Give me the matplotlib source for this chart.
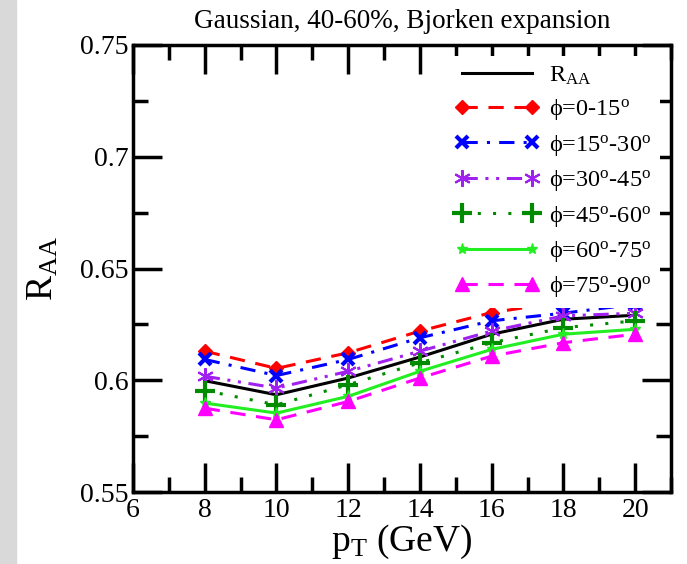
import matplotlib
matplotlib.use("Agg")
import matplotlib.pyplot as plt
from matplotlib.patches import Rectangle
from matplotlib.ticker import MultipleLocator

plt.rcParams['font.family'] = ['Liberation Serif', 'DejaVu Serif']
plt.rcParams['mathtext.fontset'] = 'custom'
plt.rcParams['mathtext.rm'] = 'Liberation Serif'
plt.rcParams['mathtext.it'] = 'Liberation Serif:italic'

pt = [8, 10, 12, 14, 16, 18, 20]
raa = [0.5998, 0.5935, 0.6010, 0.6104, 0.6206, 0.6273, 0.6291]
phi_0_15 = [0.6130, 0.6053, 0.6123, 0.6220, 0.6303, 0.6350, 0.6370]
phi_15_30 = [0.6093, 0.6021, 0.6093, 0.6190, 0.6266, 0.6300, 0.6340]
phi_30_45 = [0.6018, 0.5965, 0.6040, 0.6130, 0.6220, 0.6288, 0.6300]
phi_45_60 = [0.5954, 0.5890, 0.5980, 0.6078, 0.6168, 0.6235, 0.6266]
phi_60_75 = [0.5898, 0.5853, 0.5928, 0.6040, 0.6138, 0.6206, 0.6228]
phi_75_90 = [0.5875, 0.5823, 0.5905, 0.6010, 0.6108, 0.6168, 0.6206]

labels = ['R$_{\\rm AA}$',
          'ϕ=0-15$^{\\rm o}$',
          'ϕ=15$^{\\rm o}$-30$^{\\rm o}$',
          'ϕ=30$^{\\rm o}$-45$^{\\rm o}$',
          'ϕ=45$^{\\rm o}$-60$^{\\rm o}$',
          'ϕ=60$^{\\rm o}$-75$^{\\rm o}$',
          'ϕ=75$^{\\rm o}$-90$^{\\rm o}$']

fig = plt.figure(figsize=(6.87, 5.64), dpi=100)
fig.patches.append(Rectangle((0, 0), 16 / 687, 1, transform=fig.transFigure,
                             color='#d9d9d9', zorder=-10))
ax = fig.add_axes([133 / 687, 1 - 492 / 564, (671 - 133) / 687, (492 - 45) / 564])

lw = 2.2
ax.plot(pt, raa, color='black', lw=lw, label=labels[0])
ax.plot(pt, phi_0_15, color='#ff0000', lw=lw, ls=(0, (5, 3.5)),
        marker='D', ms=7, label=labels[1])
ax.plot(pt, phi_15_30, color='#0000ff', lw=lw, ls=(0, (5, 3, 1, 3)),
        marker='x', ms=9, mew=3, label=labels[2])
ax.plot(pt, phi_30_45, color='#a020f0', lw=lw, ls=(0, (5, 2.5, 1, 2.5, 1, 2.5)),
        marker=(6, 2, 0), ms=12, mew=1.5, label=labels[3])
ax.plot(pt, phi_45_60, color='#008b00', lw=lw, ls=(0, (1, 4)),
        marker='+', ms=14, mew=3, label=labels[4])
ax.plot(pt, phi_60_75, color='#22ee22', lw=lw, ls='-',
        marker='*', ms=8, label=labels[5])
ax.plot(pt, phi_75_90, color='#ff00ff', lw=lw, ls=(0, (5, 3.5)),
        marker='^', ms=10, label=labels[6])

ax.set_xlim(6, 21)
ax.set_ylim(0.55, 0.75)
ax.xaxis.set_major_locator(MultipleLocator(2))
ax.xaxis.set_minor_locator(MultipleLocator(1))
ax.yaxis.set_minor_locator(MultipleLocator(0.025))
ax.set_yticks([0.55, 0.6, 0.65, 0.7, 0.75])
ax.set_yticklabels(['0.55', '0.6', '0.65', '0.7', '0.75'])
ax.tick_params(which='both', direction='in', top=True, right=True,
               width=2.5, labelsize=20)
ax.tick_params(which='major', length=21)
ax.tick_params(which='minor', length=11)
ax.tick_params(axis='x', pad=4)
ax.tick_params(axis='y', pad=3)
for s in ax.spines.values():
    s.set_linewidth(2.5)

ax.set_xlabel('p$_{\\rm T}$ (GeV)', fontsize=27, labelpad=0)
ax.set_ylabel('R$_{\\rm AA}$', fontsize=27, labelpad=14)
ax.set_title('Gaussian, 40-60%, Bjorken expansion', fontsize=19.5, pad=12)

leg = ax.legend(loc='upper right', fontsize=17.5, numpoints=2, handlelength=3.5,
                labelspacing=0.43, borderaxespad=0.45, borderpad=0.35,
                fancybox=False, framealpha=1, edgecolor='none',
                facecolor='white', handletextpad=0.4)

fig.savefig('out.png', dpi=100)
